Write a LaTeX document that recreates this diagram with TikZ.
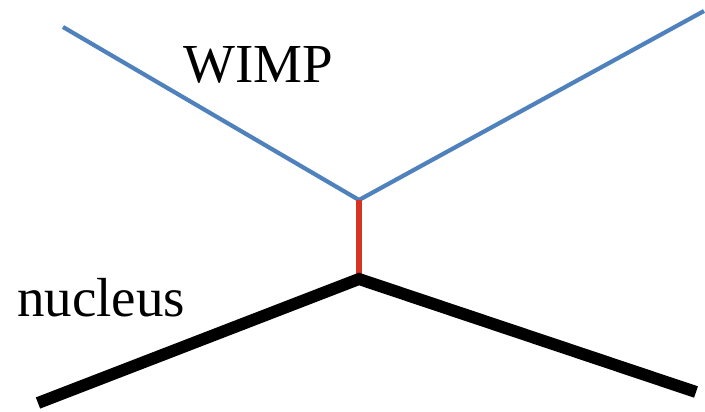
\documentclass[tikz,border=0pt]{standalone}
\usepackage{fontspec}
\setmainfont{Liberation Serif}
\definecolor{wimpblue}{RGB}{79,129,189}
\definecolor{medred}{RGB}{214,52,34}
\begin{document}
\begin{tikzpicture}[x=1pt,y=1pt,
  wimpline/.style={draw=wimpblue,line width=4.2pt},
  mediator/.style={draw=medred,line width=6pt},
  nucline/.style={draw=black,line width=12pt},
  label/.style={anchor=base west,inner sep=0pt,font=\fontsize{55}{60}\selectfont}]
\useasboundingbox (0,0) rectangle (705,412);
% vertices and external legs
\coordinate (win) at (63,385);
\coordinate (wout) at (704,401);
\coordinate (top) at (359,212);
\coordinate (bot) at (359,133);
\coordinate (nin) at (38,9);
\coordinate (nout) at (696,20);
% WIMP line
\draw[wimpline] (win) -- (top) -- (wout);
% exchanged particle
\draw[mediator] (top) -- (bot);
% nucleus line
\draw[nucline,line join=miter] (nin) -- (bot) -- (nout);
% labels
\node[label] (wimp) at (183,329) {WIMP};
\node[label] (nucleus) at (17,95) {nucleus};
\end{tikzpicture}
\end{document}
